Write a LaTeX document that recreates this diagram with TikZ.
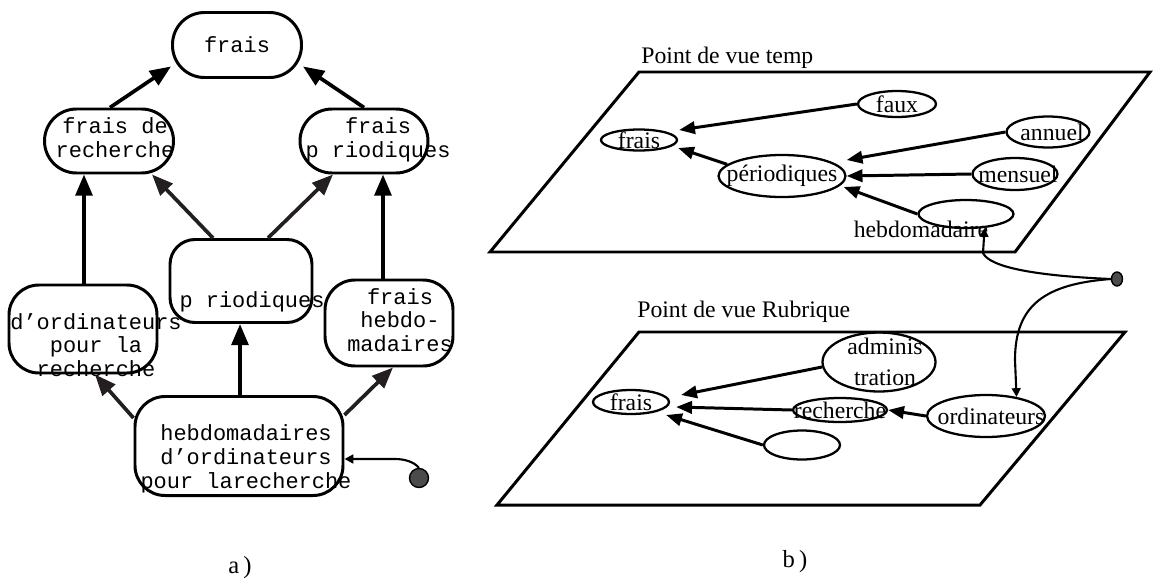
\documentclass[tikz,border=0pt]{standalone}
\usepackage{fontspec}
\setmainfont{Liberation Serif}
\setmonofont{Liberation Mono}
\usepackage{tikz}
\usetikzlibrary{shapes.geometric, arrows.meta, calc}
\definecolor{DotGray}{RGB}{75,75,75}
\definecolor{EdgeGray}{RGB}{35,31,32}
\newcommand{\pxu}{0.02cm}

\begin{document}
\begin{tikzpicture}[x=\pxu, y=-\pxu,
    rbox/.style n args={3}{draw, line width=1.7pt, rounded corners=#3*\pxu, inner sep=0pt, minimum width=#1*\pxu, minimum height=#2*\pxu},
    ebox/.style 2 args={draw, ellipse, line width=1.3pt, inner sep=0pt, minimum width=#1*\pxu, minimum height=#2*\pxu},
    mono/.style={font=\fontsize{12.5}{13.5}\selectfont\ttfamily, align=center, inner sep=0pt},
    serif/.style={font=\fontsize{13.5}{15.5}\selectfont, inner sep=0pt},
    aarr/.style={-{Triangle[length=12pt, width=9.5pt]}, line width=2.1pt},
    barr/.style={-{Triangle[length=9pt, width=7pt]}, line width=1.7pt},
    link/.style={-{Triangle[length=5pt, width=5pt]}, line width=1.2pt},
    plane/.style={line width=1.7pt, line join=miter},
  ]
    \useasboundingbox (0,0) rectangle (1153,585);

    % a) lattice of concepts
    \node[rbox={129}{65}{32}, label={[mono]center:frais}] (fr) at (237,45) {};
    \node[rbox={129}{64}{32}, label={[mono, xshift=6*\pxu, yshift=3*\pxu]center:{frais de\\recherche}}] (frec) at (109,141) {};
    \node[rbox={128}{64}{32}, label={[mono, xshift=14*\pxu, yshift=1*\pxu]center:{frais\\p riodiques}}] (fper) at (364,141) {};
    \node[rbox={142}{83}{25}, label={[mono, xshift=11*\pxu, yshift=-21*\pxu]center:p riodiques}] (mid) at (241,281) {};
    \node[rbox={148}{88}{30}, label={[mono, xshift=13*\pxu, yshift=-16*\pxu]center:{d’ordinateurs\\pour la\\recherche}}] (dord) at (83,329) {};
    \node[rbox={128}{86}{30}, label={[mono, xshift=11*\pxu, yshift=3*\pxu]center:{frais\\hebdo-\\madaires}}] (fheb) at (389,323) {};
    \node[rbox={208}{99}{30}, label={[mono, xshift=7*\pxu, yshift=-13*\pxu]center:{hebdomadaires\\d’ordinateurs\\pour larecherche}}] (bot) at (239,446) {};

    \draw[aarr] (frec.north -| 110,0) -- (fr.-162);
    \draw[aarr] (fper.north -| 364,0) -- (fr.-18);
    \draw[aarr, EdgeGray] (mid.north -| 213,0) -- (frec.south -| 152,0);
    \draw[aarr, EdgeGray] (mid.north -| 268,0) -- (fper.south -| 333,0);
    \draw[aarr] (dord.north -| 84,0) -- (frec.south -| 84,0);
    \draw[aarr] (fheb.north -| 383,0) -- (fper.south -| 383,0);
    \draw[aarr] (bot.north -| 240,0) -- (mid.south -| 240,0);
    \draw[aarr, EdgeGray] (bot.west |- 0,418) -- (dord.south -| 95,0);
    \draw[aarr, EdgeGray] (bot.east |- 0,415) -- (fheb.south -| 393,0);

    \node[circle, draw, fill=DotGray, line width=0.8pt, inner sep=0pt, minimum size=19*\pxu] (dotA) at (419,478) {};
    \draw[link] (dotA.north) .. controls (414,462) and (405,459) .. (395,459) -- (bot.east |- 0,459);

    \node[serif, font=\fontsize{14}{16}\selectfont] (capa) at (240,568) {a\,)};

    % b) two planes (points of view)
    \draw[plane] (490,252) -- (1015,252) -- (1150,72) -- (639,72) -- cycle;
    \draw[plane] (497,505) -- (980,505) -- (1125,332) -- (639,332) -- cycle;
    \node[serif, anchor=west] (ttemp) at (641,58) {Point de vue temp};
    \node[serif, anchor=west] (trub) at (637,312) {Point de vue Rubrique};

    % upper plane
    \node[ebox={76}{21}, label={[serif]center:frais}] (fr2) at (639,140) {};
    \node[ebox={78}{26}, label={[serif]center:faux}] (faux) at (897,104) {};
    \node[ebox={83}{31}, label={[serif, xshift=4*\pxu]center:annuel}] (annuel) at (1048,132) {};
    \node[ebox={85}{32}, label={[serif, xshift=3*\pxu]center:mensuel}] (mensuel) at (1015,174) {};
    \node[ebox={127}{42}, label={[serif]center:périodiques}] (per) at (782,176) {};
    \node[ebox={95}{28}, label={[serif, xshift=-45*\pxu, yshift=-15*\pxu]center:hebdomadaire}] (heb) at (966,214) {};

    \draw[barr] (faux.west) -- ($(fr2.east)+(1,-10)$);
    \draw[barr] (per.168) -- ($(fr2.east)+(0,8)$);
    \draw[barr] (annuel.west) -- ($(per.east)+(0,-16)$);
    \draw[barr] (mensuel.west) -- (per.east);
    \draw[barr] (heb.west) -- ($(per.east)+(-3,11)$);

    % lower plane
    \node[ebox={76}{24}, label={[serif]center:frais}] (fr3) at (631,402) {};
    \node[ebox={113}{59}, label={[serif, font=\fontsize{13.5}{17.6}\selectfont, align=center, xshift=6*\pxu]center:{adminis\\tration}}] (adm) at (879,362) {};
    \node[ebox={94}{24}, label={[serif]center:recherche}] (rec) at (840,410) {};
    \node[ebox={76}{29}] (emp) at (802,445) {};
    \node[ebox={118}{42}, label={[serif, xshift=5*\pxu]center:ordinateurs}] (ordi) at (986,416) {};

    \draw[barr] (adm.-175) -- ($(fr3.east)+(11,-7)$);
    \draw[barr] (rec.west) -- ($(fr3.east)+(6,5)$);
    \draw[barr] (emp.west) -- ($(fr3.east)+(-4,13)$);
    \draw[barr] (ordi.west) -- (rec.east);

    \node[ellipse, draw, fill=DotGray, line width=0.8pt, inner sep=0pt, minimum width=11*\pxu, minimum height=14*\pxu] (dotB) at (1117,279) {};
    \draw[link] (dotB.west) .. controls (1040,276) and (990,268) .. (983,253) -- (heb.-37);
    \draw[link] (dotB.west) .. controls (1045,284) and (1015,305) .. (1015,360) -- (ordi.32);

    \node[serif, font=\fontsize{14}{16}\selectfont] (capb) at (795,562) {b\,)};
\end{tikzpicture}
\end{document}
